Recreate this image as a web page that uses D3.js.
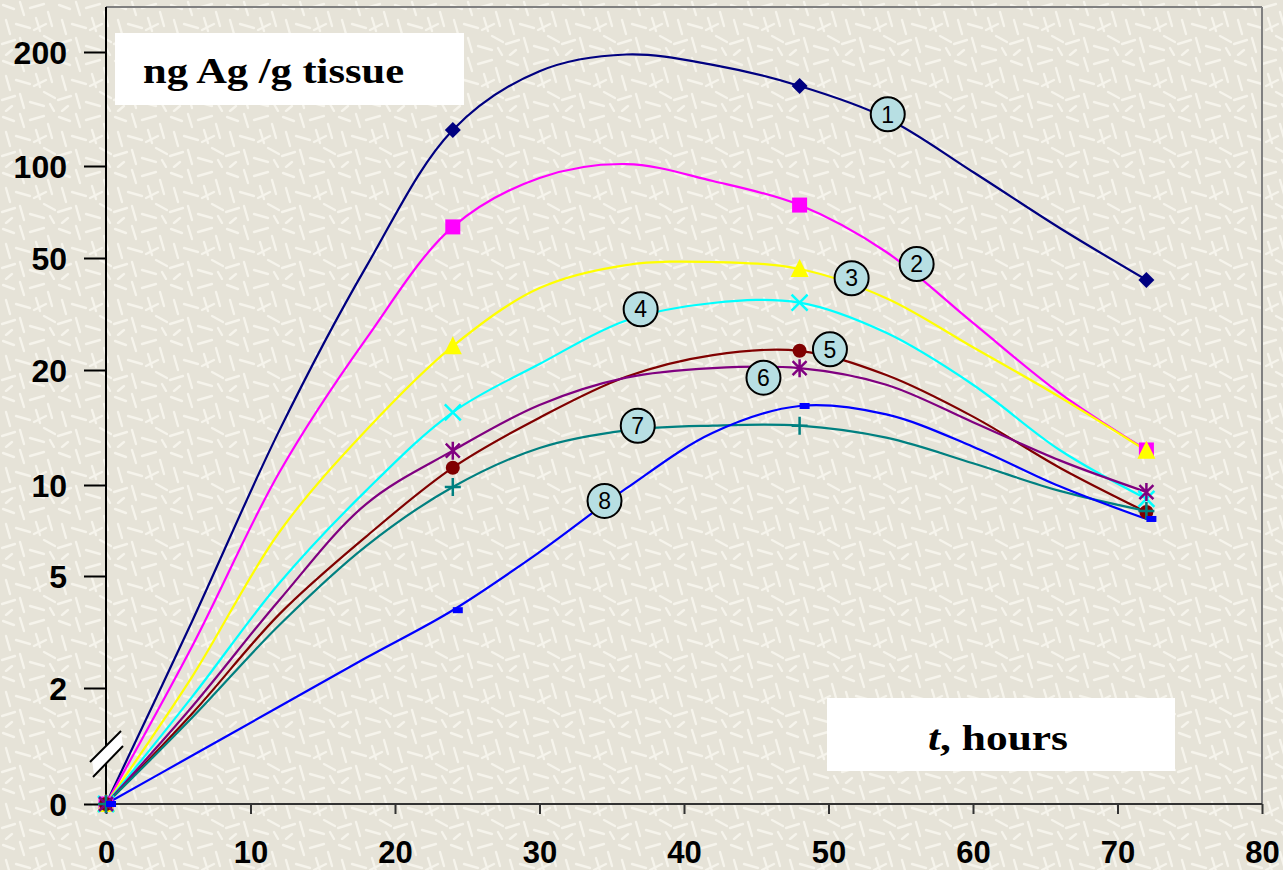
<!DOCTYPE html>
<html>
<head>
<meta charset="utf-8">
<script src="https://cdn.jsdelivr.net/npm/d3@7"></script>
<style>
  body { margin: 0; background: #e7e4d9; }
  svg { display: block; }
</style>
</head>
<body>
<svg id="chart" width="1283" height="870"></svg>
<script>
// sampling times (hours) of the drawn curves, markers only at the measured times
const hours = [0, 6, 12, 18, 24, 30, 36, 42, 48, 54, 60, 66, 72];
const markerHours = [0, 24, 48, 72];

// ng Ag / g tissue
const series1 = [0, 3.49, 13.9, 46.5, 124.5, 178, 197, 185, 162.7, 133.9, 95.6, 62.7, 41.8];
const series2 = [0, 2.84, 10.8, 25.8, 63.2, 91.4, 101.2, 89.3, 74.5, 52.3, 29.4, 17.4, 12.35];
const series3 = [0, 2.21, 6.99, 13.9, 24.3, 39.1, 47.2, 48.4, 45.7, 36.0, 24.1, 17.0, 12.3];
const series4 = [0, 1.86, 4.72, 9.58, 15.5, 21.0, 30.0, 34.6, 34.7, 27.1, 18.3, 12.35, 9.0];
const series5 = [0, 1.57, 3.66, 6.75, 11.1, 15.0, 19.2, 22.6, 23.4, 19.4, 15.1, 11.1, 8.14];
const series6 = [0, 1.69, 4.11, 8.65, 12.3, 16.2, 19.1, 20.3, 20.3, 18.3, 14.6, 11.6, 9.48];
const series7 = [0, 1.5, 3.35, 6.28, 9.85, 12.5, 13.9, 14.3, 14.3, 13.3, 11.4, 9.56, 8.2];
const series8 = [0, 0.84, 1.68, 2.56, 3.78, 6.0, 9.74, 13.7, 16.1, 15.3, 12.6, 9.9, 7.72];

const seriesNames = ['1', '2', '3', '4', '5', '6', '7', '8'];
const colors = ['#000080', '#ff00ff', '#ffff00', '#00ffff', '#800000', '#800080', '#008080', '#0000ff'];
const markerTypes = ['diamond', 'square', 'triangle', 'cross', 'circle', 'asterisk', 'plus', 'dash'];

// numbered circle labels
const labelHours = [54.1, 56.1, 51.6, 37.0, 50.1, 45.5, 36.8, 34.5];
const labelValues = [137, 47.6, 42.4, 32.9, 23.7, 19.1, 14.3, 8.86];

const xTicks = [0, 10, 20, 30, 40, 50, 60, 70, 80];
const yTicks = [0, 2, 5, 10, 20, 50, 100, 200];

const allSeries = [series1, series2, series3, series4, series5, series6, series7, series8];

const svg = d3.select('#chart');

// textured backdrop
const defs = svg.append('defs');
const pat = defs.append('pattern')
  .attr('id', 'tex').attr('width', 56).attr('height', 56)
  .attr('patternUnits', 'userSpaceOnUse');
pat.append('rect').attr('width', 56).attr('height', 56).attr('fill', '#e6e3d8');
const strokes = [[3,5,14,9],[20,2,24,15],[30,8,44,4],[48,12,52,26],[6,20,10,34],[16,24,30,28],
  [36,18,40,31],[44,36,55,42],[2,44,15,40],[20,38,24,52],[30,46,44,50],[12,50,6,55],[34,30,46,24],[50,48,54,55]];
pat.selectAll('line').data(strokes).enter().append('line')
  .attr('x1', d => d[0]).attr('y1', d => d[1]).attr('x2', d => d[2]).attr('y2', d => d[3])
  .attr('stroke', '#f6f4ec').attr('stroke-width', 2.4).attr('stroke-linecap', 'round');
svg.append('rect').attr('width', 1283).attr('height', 870).attr('fill', 'url(#tex)');

// scales: x linear, y log between the labelled ticks with a broken stretch below 2
const x = d3.scaleLinear().domain([0, 80]).range([106, 1262]);
const yLog = d3.scaleLinear()
  .domain([2, 5, 10, 20, 50, 100, 200].map(Math.log10))
  .range([688, 576, 485, 370, 258, 166, 52]);
const yLow = d3.scaleLinear().domain([0, 2]).range([804, 688]);
function y(v) { return v < 2 ? yLow(v) : yLog(Math.log10(v)); }
y.domain = () => [0, 200];
y.range = () => [804, 7];
y.copy = () => y;

// frame
svg.append('line').attr('x1', 106).attr('x2', 1262).attr('y1', 7).attr('y2', 7)
  .attr('stroke', '#808080').attr('stroke-width', 2);
svg.append('line').attr('x1', 1262).attr('x2', 1262).attr('y1', 7).attr('y2', 804)
  .attr('stroke', '#808080').attr('stroke-width', 2);

// axes
const xAxis = svg.append('g').attr('transform', 'translate(0,804)')
  .call(d3.axisBottom(x).tickValues(xTicks).tickSize(10).tickSizeOuter(0));
xAxis.select('.domain').remove();
xAxis.selectAll('line').attr('stroke', '#333').attr('stroke-width', 2);
xAxis.selectAll('text').attr('y', 59).attr('dy', 0)
  .style('font', 'bold 31px "Liberation Sans", Arial, sans-serif').attr('fill', '#000');

const yAxis = svg.append('g').attr('transform', 'translate(106,0)')
  .call(d3.axisLeft(y).tickValues(yTicks).tickSize(22).tickPadding(17));
yAxis.select('.domain').remove();
yAxis.selectAll('line').attr('stroke', '#000').attr('stroke-width', 2);
yAxis.selectAll('text').attr('dy', '0.36em')
  .style('font', 'bold 32px "Liberation Sans", Arial, sans-serif').attr('fill', '#000');

svg.append('line').attr('x1', 106).attr('x2', 1262).attr('y1', 804).attr('y2', 804)
  .attr('stroke', '#333').attr('stroke-width', 2);
svg.append('line').attr('x1', 106).attr('x2', 106).attr('y1', 7).attr('y2', 805)
  .attr('stroke', '#000').attr('stroke-width', 2);

// axis break
svg.append('polygon').attr('points', '92,760 121,731 123,746 94,775').attr('fill', '#fff');
svg.append('line').attr('x1', 90).attr('y1', 762).attr('x2', 121).attr('y2', 731)
  .attr('stroke', '#000').attr('stroke-width', 2);
svg.append('line').attr('x1', 93).attr('y1', 777).attr('x2', 123).attr('y2', 746)
  .attr('stroke', '#000').attr('stroke-width', 2);

// title boxes
svg.append('rect').attr('x', 115).attr('y', 33).attr('width', 349).attr('height', 72).attr('fill', '#fff');
svg.append('text').attr('x', 143).attr('y', 83)
  .attr('textLength', 261).attr('lengthAdjust', 'spacingAndGlyphs')
  .style('font', 'bold 36px "Liberation Serif", "Times New Roman", serif')
  .text('ng Ag /g tissue');

svg.append('rect').attr('x', 827).attr('y', 698).attr('width', 348).attr('height', 73).attr('fill', '#fff');
const tl = svg.append('text').attr('x', 928).attr('y', 750)
  .attr('textLength', 140).attr('lengthAdjust', 'spacingAndGlyphs')
  .style('font', 'bold 36px "Liberation Serif", "Times New Roman", serif');
tl.append('tspan').style('font-style', 'italic').text('t');
tl.append('tspan').text(', hours');

// curves
const line = d3.line()
  .x(d => x(d.t)).y(d => y(d.v))
  .curve(d3.curveCatmullRom.alpha(0.5));

const seriesData = allSeries.map((vals, i) => ({
  name: seriesNames[i], color: colors[i], marker: markerTypes[i],
  points: hours.map((t, j) => ({ t: t, v: vals[j] }))
}));

svg.append('g').selectAll('path').data(seriesData).enter().append('path')
  .attr('d', d => line(d.points))
  .attr('fill', 'none').attr('stroke', d => d.color).attr('stroke-width', 2.2);

// markers
function drawMarker(g, type, color) {
  if (type === 'diamond') {
    g.append('path').attr('d', 'M0,-8L8,0L0,8L-8,0Z').attr('fill', color);
  } else if (type === 'square') {
    g.append('rect').attr('x', -7.5).attr('y', -7.5).attr('width', 15).attr('height', 15).attr('fill', color);
  } else if (type === 'triangle') {
    g.append('path').attr('d', 'M0,-10L9,8L-9,8Z').attr('fill', color);
  } else if (type === 'circle') {
    g.append('circle').attr('r', 7).attr('fill', color);
  } else if (type === 'cross') {
    g.append('path').attr('d', 'M-8,-8L8,8M-8,8L8,-8').attr('stroke', color).attr('stroke-width', 2.5);
  } else if (type === 'asterisk') {
    g.append('path').attr('d', 'M-7,-7L7,7M-7,7L7,-7M0,-9L0,9').attr('stroke', color).attr('stroke-width', 2.5);
  } else if (type === 'plus') {
    g.append('path').attr('d', 'M-8,0L8,0M0,-9L0,9').attr('stroke', color).attr('stroke-width', 2.5);
  } else if (type === 'dash') {
    g.append('rect').attr('x', 0).attr('y', -3).attr('width', 10).attr('height', 6).attr('fill', color);
  }
}

seriesData.forEach(s => {
  s.points.filter(p => markerHours.includes(p.t)).forEach(p => {
    const g = svg.append('g').attr('transform', `translate(${x(p.t)},${y(p.v)})`);
    drawMarker(g, s.marker, s.color);
  });
});

// numbered labels
const labels = svg.append('g').selectAll('g').data(seriesNames).enter().append('g')
  .attr('transform', (d, i) => `translate(${x(labelHours[i])},${y(labelValues[i])})`);
labels.append('circle').attr('r', 17).attr('fill', '#b7dfe3').attr('stroke', '#000').attr('stroke-width', 2);
labels.append('text').attr('text-anchor', 'middle').attr('dy', '0.36em')
  .style('font', '23px "Liberation Sans", Arial, sans-serif').attr('fill', '#000')
  .text(d => d);
</script>
</body>
</html>
